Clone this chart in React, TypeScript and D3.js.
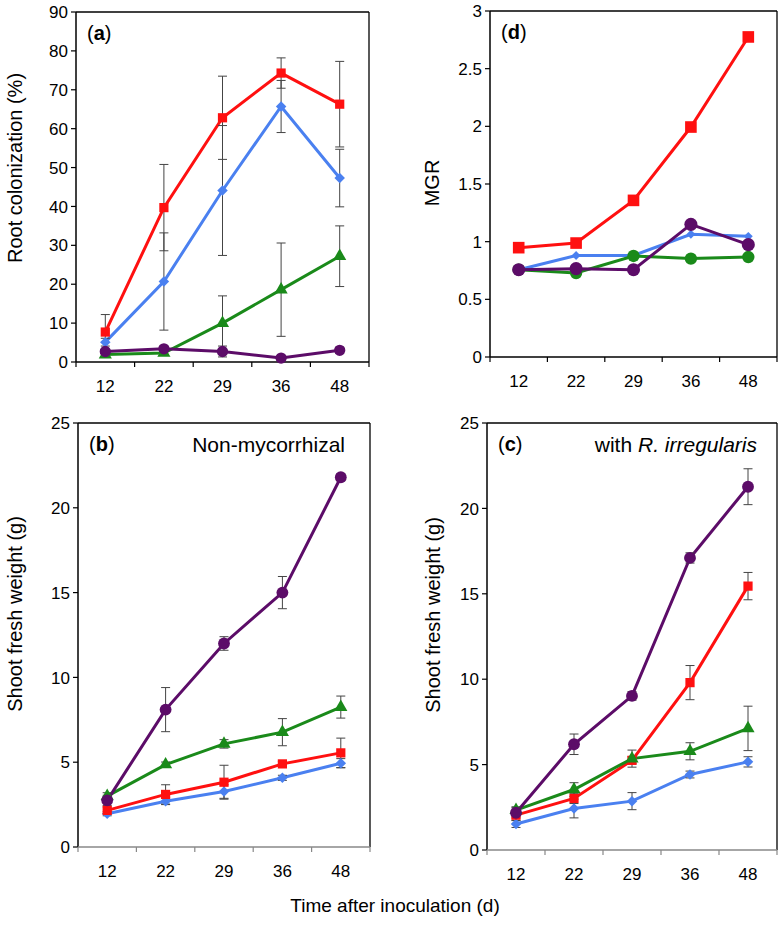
import React from "react";
import * as d3 from "d3";

const days = ["12", "22", "29", "36", "48"];
const colors: Record<string, string> = {
  blue: "#4a80f0",
  red: "#ff1010",
  green: "#1a8a1a",
  purple: "#5c0c68",
};

// Panel (a) Root colonization (%)
const aBlue = [5.1, 20.7, 44.1, 65.7, 47.3];
const aBlueErr = [1.0, 12.5, 16.7, 6.7, 7.4];
const aRed = [7.7, 39.7, 62.8, 74.3, 66.3];
const aRedErr = [4.5, 11.1, 10.7, 3.9, 11.0];
const aGreen = [1.9, 2.3, 10.0, 18.6, 27.2];
const aGreenErr = [0.5, 0.6, 7.0, 12.0, 7.8];
const aPurple = [2.7, 3.4, 2.7, 1.0, 3.0];
const aPurpleErr = [0.5, 0.7, 1.4, 0.5, 0.8];

// Panel (d) MGR
const dBlue = [0.757, 0.88, 0.88, 1.064, 1.046];
const dRed = [0.948, 0.988, 1.358, 1.994, 2.775];
const dGreen = [0.757, 0.728, 0.876, 0.853, 0.867];
const dPurple = [0.757, 0.766, 0.757, 1.15, 0.974];

// Panel (b) Non-mycorrhizal shoot fresh weight (g)
const bBlue = [1.96, 2.7, 3.27, 4.08, 4.94];
const bBlueErr = [0.12, 0.2, 0.4, 0.15, 0.27];
const bRed = [2.16, 3.1, 3.82, 4.9, 5.55];
const bRedErr = [0.2, 0.57, 1.0, 0.15, 0.87];
const bGreen = [3.0, 4.86, 6.08, 6.77, 8.25];
const bGreenErr = [0.2, 0.15, 0.25, 0.8, 0.65];
const bPurple = [2.75, 8.1, 12.0, 15.0, 21.8];
const bPurpleErr = [0.3, 1.3, 0.4, 0.95, 0.2];

// Panel (c) with R. irregularis shoot fresh weight (g)
const cBlue = [1.52, 2.43, 2.86, 4.42, 5.16];
const cBlueErr = [0.2, 0.55, 0.5, 0.2, 0.3];
const cRed = [2.04, 3.02, 5.25, 9.8, 15.45];
const cRedErr = [0.3, 0.3, 0.2, 1.0, 0.8];
const cGreen = [2.33, 3.54, 5.35, 5.78, 7.12];
const cGreenErr = [0.2, 0.4, 0.5, 0.5, 1.3];
const cPurple = [2.18, 6.19, 9.02, 17.1, 21.27];
const cPurpleErr = [0.3, 0.6, 0.25, 0.3, 1.05];

const aTicks = [0, 10, 20, 30, 40, 50, 60, 70, 80, 90];
const dTicks = [0, 0.5, 1, 1.5, 2, 2.5, 3];
const bcTicks = [0, 5, 10, 15, 20, 25];

type Series = {
  key: string;
  values: number[];
  err?: number[];
  symbol: d3.SymbolType;
  size: number;
  rotate?: number;
};

type PanelProps = {
  x0: number;
  x1: number;
  y0: number;
  y1: number;
  domainMax: number;
  ticks: number[];
  tickFmt: (v: number) => string;
  series: Series[];
  letter: string;
  yTitle: string;
  yTitleX: number;
  yTitleY: number;
  xAxisColor: string;
  annotation?: React.ReactNode;
};

const FONT = "'Liberation Sans', Arial, Helvetica, sans-serif";

function Panel(p: PanelProps) {
  const x = d3.scaleBand<string>().domain(days).range([p.x0, p.x1]);
  const y = d3.scaleLinear().domain([0, p.domainMax]).range([p.y1, p.y0]);
  const cx = (d: string) => (x(d) as number) + x.bandwidth() / 2;
  const line = d3
    .line<number>()
    .x((_, i) => cx(days[i]))
    .y((v) => y(v));
  const boundaries = d3.range(days.length + 1).map((i) => p.x0 + i * x.bandwidth());
  return (
    <g>
      <line x1={p.x0} x2={p.x1} y1={p.y0} y2={p.y0} stroke="#000" strokeWidth={1.3} />
      <line x1={p.x1} x2={p.x1} y1={p.y0} y2={p.y1} stroke="#000" strokeWidth={1.3} />
      <line x1={p.x0} x2={p.x0} y1={p.y0} y2={p.y1} stroke="#000" strokeWidth={1.5} />
      {p.ticks.map((t) => (
        <g key={t}>
          <line x1={p.x0 - 5} x2={p.x0} y1={y(t)} y2={y(t)} stroke="#000" strokeWidth={1.2} />
          <text
            x={p.x0 - 8}
            y={y(t)}
            dy="0.36em"
            textAnchor="end"
            fontSize={17}
            fontFamily={FONT}
            fill="#000"
          >
            {p.tickFmt(t)}
          </text>
        </g>
      ))}
      <line x1={p.x0} x2={p.x1} y1={p.y1} y2={p.y1} stroke={p.xAxisColor} strokeWidth={1.6} />
      {boundaries.map((b, i) => (
        <line key={i} x1={b} x2={b} y1={p.y1} y2={p.y1 + 5} stroke={p.xAxisColor} strokeWidth={1.2} />
      ))}
      {days.map((d) => (
        <text
          key={d}
          x={cx(d)}
          y={p.y1 + 30}
          textAnchor="middle"
          fontSize={17}
          fontFamily={FONT}
          fill="#000"
        >
          {d}
        </text>
      ))}
      {p.series.map((s) => (
        <path key={s.key} d={line(s.values) || ""} fill="none" stroke={colors[s.key]} strokeWidth={3} />
      ))}
      {p.series.map((s) =>
        s.err
          ? s.values.map((v, i) => {
              const e = s.err![i];
              const xx = cx(days[i]);
              return (
                <g key={s.key + i} stroke="#444" strokeWidth={1}>
                  <line x1={xx} x2={xx} y1={y(v - e)} y2={y(v + e)} />
                  <line x1={xx - 4.5} x2={xx + 4.5} y1={y(v - e)} y2={y(v - e)} />
                  <line x1={xx - 4.5} x2={xx + 4.5} y1={y(v + e)} y2={y(v + e)} />
                </g>
              );
            })
          : null
      )}
      {p.series.map((s) =>
        s.values.map((v, i) => (
          <path
            key={s.key + "m" + i}
            d={d3.symbol().type(s.symbol).size(s.size)() || ""}
            transform={`translate(${cx(days[i])},${y(v)}) rotate(${s.rotate || 0})`}
            fill={colors[s.key]}
          />
        ))
      )}
      <text x={p.x0 + 11} y={p.y0 + 28} fontSize={20} fontFamily={FONT} fill="#000">
        (<tspan fontWeight="bold">{p.letter}</tspan>)
      </text>
      {p.annotation}
      <text
        transform={`translate(${p.yTitleX},${p.yTitleY}) rotate(-90)`}
        textAnchor="middle"
        fontSize={20}
        fontFamily={FONT}
        fill="#000"
      >
        {p.yTitle}
      </text>
    </g>
  );
}

export default function App() {
  const fmt0 = (v: number) => String(v);
  const sq = d3.symbolSquare;
  const tr = d3.symbolTriangle;
  const ci = d3.symbolCircle;
  return (
    <svg width={784} height={930} style={{ display: "block", position: "absolute", left: 0, top: 0 }}>
      <rect width={784} height={930} fill="#fff" />
      <Panel
        x0={76}
        x1={369}
        y0={12}
        y1={362}
        domainMax={90}
        ticks={aTicks}
        tickFmt={fmt0}
        letter="a"
        yTitle="Root colonization (%)"
        yTitleX={22}
        yTitleY={168}
        xAxisColor="#000"
        series={[
          { key: "blue", values: aBlue, err: aBlueErr, symbol: sq, size: 55, rotate: 45 },
          { key: "red", values: aRed, err: aRedErr, symbol: sq, size: 85 },
          { key: "green", values: aGreen, err: aGreenErr, symbol: tr, size: 75 },
          { key: "purple", values: aPurple, err: aPurpleErr, symbol: ci, size: 100 },
        ]}
      />
      <Panel
        x0={490}
        x1={777}
        y0={11}
        y1={357}
        domainMax={3}
        ticks={dTicks}
        tickFmt={fmt0}
        letter="d"
        yTitle="MGR"
        yTitleX={439}
        yTitleY={183}
        xAxisColor="#000"
        series={[
          { key: "blue", values: dBlue, symbol: sq, size: 40, rotate: 45 },
          { key: "red", values: dRed, symbol: sq, size: 135 },
          { key: "green", values: dGreen, symbol: ci, size: 120 },
          { key: "purple", values: dPurple, symbol: ci, size: 135 },
        ]}
      />
      <Panel
        x0={78}
        x1={370}
        y0={423}
        y1={847}
        domainMax={25}
        ticks={bcTicks}
        tickFmt={fmt0}
        letter="b"
        yTitle="Shoot fresh weight (g)"
        yTitleX={22}
        yTitleY={614}
        xAxisColor="#888"
        annotation={
          <text x={345} y={452} textAnchor="end" fontSize={21} fontFamily={FONT} fill="#000">
            Non-mycorrhizal
          </text>
        }
        series={[
          { key: "blue", values: bBlue, err: bBlueErr, symbol: sq, size: 55, rotate: 45 },
          { key: "red", values: bRed, err: bRedErr, symbol: sq, size: 85 },
          { key: "green", values: bGreen, err: bGreenErr, symbol: tr, size: 75 },
          { key: "purple", values: bPurple, err: bPurpleErr, symbol: ci, size: 110 },
        ]}
      />
      <Panel
        x0={487}
        x1={777}
        y0={423}
        y1={850}
        domainMax={25}
        ticks={bcTicks}
        tickFmt={fmt0}
        letter="c"
        yTitle="Shoot fresh weight (g)"
        yTitleX={440}
        yTitleY={615}
        xAxisColor="#888"
        annotation={
          <text x={757} y={452} textAnchor="end" fontSize={21} fontFamily={FONT} fill="#000">
            with <tspan fontStyle="italic">R. irregularis</tspan>
          </text>
        }
        series={[
          { key: "blue", values: cBlue, err: cBlueErr, symbol: sq, size: 55, rotate: 45 },
          { key: "red", values: cRed, err: cRedErr, symbol: sq, size: 85 },
          { key: "green", values: cGreen, err: cGreenErr, symbol: tr, size: 75 },
          { key: "purple", values: cPurple, err: cPurpleErr, symbol: ci, size: 110 },
        ]}
      />
      <text x={395} y={912} textAnchor="middle" fontSize={19} fontFamily={FONT} fill="#000">
        Time after inoculation (d)
      </text>
    </svg>
  );
}
